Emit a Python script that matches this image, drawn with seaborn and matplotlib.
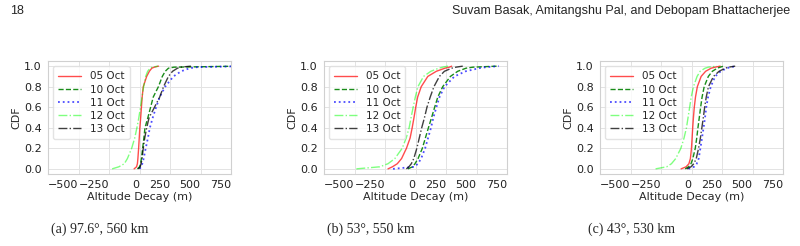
import matplotlib
matplotlib.use("Agg")
import matplotlib.pyplot as plt
import seaborn as sns

# CDF levels shared by every curve
cdf_levels = [0, 0.02, 0.05, 0.1, 0.2, 0.3, 0.4, 0.5, 0.6, 0.7, 0.8, 0.9, 0.95, 0.98, 0.99, 1.0]

dates = ['05 Oct', '10 Oct', '11 Oct', '12 Oct', '13 Oct']

# altitude decay (m) at each CDF level
# (a) 97.6 deg, 560 km
a_05 = [-45, -25, -18, -14, -8, -3, 2, 9, 15, 21, 30, 58, 80, 100, 120, 155]
a_10 = [-18, 0, 8, 15, 25, 35, 44, 68, 90, 112, 154, 186, 210, 236, 280, 820]
a_11 = [0, 12, 22, 33, 50, 68, 84, 108, 135, 165, 209, 277, 340, 410, 470, 850]
a_12 = [-225, -170, -125, -100, -65, -40, -22, -6, 7, 20, 33, 50, 66, 86, 105, 150]
a_13 = [-10, 5, 12, 20, 30, 42, 58, 78, 122, 165, 196, 236, 270, 310, 335, 420]

# (b) 53 deg, 550 km
b_05 = [-226, -190, -150, -115, -75, -45, -28, -13, 1, 17, 46, 100, 170, 240, 277, 295]
b_10 = [-63, -25, -5, 20, 55, 80, 105, 131, 156, 182, 222, 285, 345, 413, 470, 670]
b_11 = [-185, -10, 19, 45, 78, 102, 126, 146, 170, 196, 237, 318, 410, 520, 576, 680]
b_12 = [-485, -293, -226, -170, -110, -77, -53, -37, -20, -2, 19, 65, 125, 190, 223, 265]
b_13 = [-76, -55, -35, -15, 10, 30, 50, 73, 93, 120, 150, 195, 236, 295, 331, 386]

# (c) 43 deg, 530 km
c_05 = [-86, -45, -22, -10, -1, 4, 9, 15, 22, 32, 47, 78, 115, 160, 193, 234]
c_10 = [-53, -25, -5, 10, 30, 42, 52, 63, 74, 86, 103, 137, 170, 210, 234, 262]
c_11 = [-26, 20, 42, 58, 72, 85, 98, 110, 120, 135, 157, 193, 238, 290, 316, 370]
c_12 = [-295, -204, -165, -130, -88, -62, -42, -29, -16, -3, 15, 45, 70, 110, 138, 206]
c_13 = [-40, -5, 18, 38, 57, 72, 84, 96, 107, 120, 138, 179, 225, 275, 302, 357]

captions = ['(a) 97.6°, 560 km', '(b) 53°, 550 km', '(c) 43°, 530 km']
x_ticks = [-500, -250, 0, 250, 500, 750]

panels = [
    [a_05, a_10, a_11, a_12, a_13],
    [b_05, b_10, b_11, b_12, b_13],
    [c_05, c_10, c_11, c_12, c_13],
]

styles = [
    dict(color='red', linestyle='-', alpha=0.7),
    dict(color='green', linestyle='--', alpha=0.9),
    dict(color='blue', linestyle=':', alpha=0.7, linewidth=1.3),
    dict(color='lime', linestyle='-.', alpha=0.5),
    dict(color='black', linestyle='-.', alpha=0.75),
]

sns.set_style("whitegrid")
plt.rcParams['font.family'] = ['DejaVu Sans']

fig = plt.figure(figsize=(8, 2.46), dpi=100)
lefts = [0.06, 0.405, 0.75]

for i, series in enumerate(panels):
    ax = fig.add_axes([lefts[i], 0.2927, 0.229, 0.4593])
    for name, q, st in zip(dates, series, styles):
        st = dict(st)
        lw = st.pop('linewidth', 1.0)
        sns.lineplot(x=q, y=cdf_levels, ax=ax, sort=False, estimator=None,
                     label=name, linewidth=lw, **st)
    ax.set_xlim(-750, 750)
    ax.set_ylim(-0.05, 1.05)
    ax.set_xticks(x_ticks)
    ax.set_xticklabels([f"{t}".replace('-', '\u2212') for t in x_ticks], ha='right')
    ax.set_yticks([0, 0.2, 0.4, 0.6, 0.8, 1.0])
    ax.set_yticklabels(['0.0', '0.2', '0.4', '0.6', '0.8', '1.0'])
    ax.tick_params(labelsize=8, colors='#222222', pad=1)
    ax.set_xlabel('Altitude Decay (m)', fontsize=8, labelpad=1)
    ax.set_ylabel('CDF', fontsize=8, labelpad=2)
    ax.grid(color='#e3e3e3', linewidth=0.7)
    for sp in ax.spines.values():
        sp.set_color('#d0d0d0')
        sp.set_linewidth(0.8)
    ax.legend(loc='upper left', fontsize=7.5, handlelength=2.2, labelspacing=0.3,
              frameon=True, edgecolor='#dddddd', fancybox=True, borderpad=0.5)
    cx = [100, 371, 631][i] / 800
    fig.text(cx, 0.069, captions[i], ha='center', va='center', fontsize=10,
             family=['Liberation Serif'])

fig.text(10 / 800, 1 - 11 / 246, '18', ha='left', va='center', fontsize=9,
         family=['Liberation Sans'])
fig.text(790 / 800, 1 - 11 / 246, 'Suvam Basak, Amitangshu Pal, and Debopam Bhattacherjee',
         ha='right', va='center', fontsize=9, family=['Liberation Sans'])

fig.savefig('out.png', dpi=100)
